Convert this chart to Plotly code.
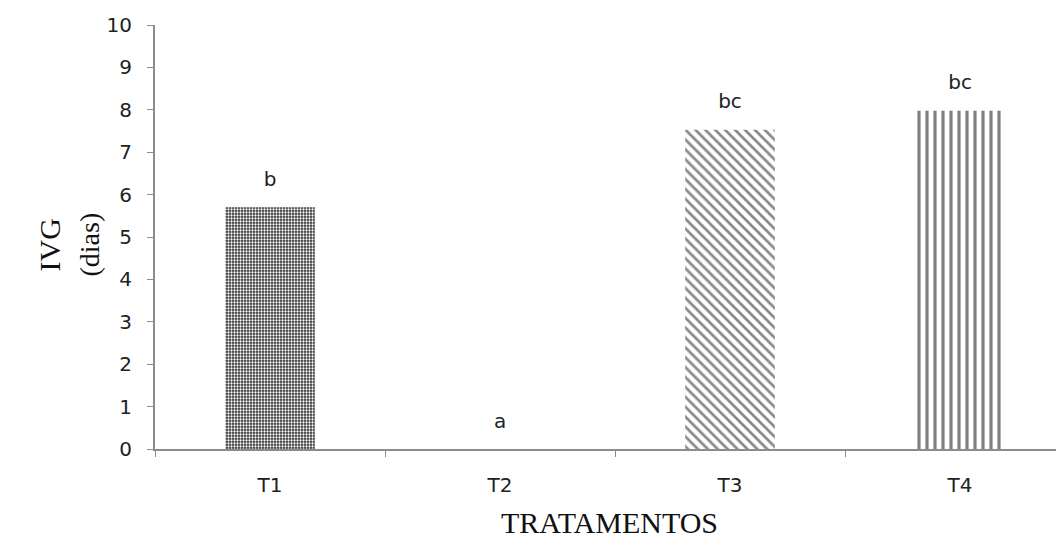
import plotly.graph_objects as go

categories = ["T1", "T2", "T3", "T4"]
values = [5.7, 0.0, 7.53, 7.98]
letters = ["b", "a", "bc", "bc"]
y_ticks = list(range(0, 11))

fig = go.Figure()

patterns = [
    dict(shape=".", bgcolor="#333333", fgcolor="#ffffff", size=3, solidity=0.45, fillmode="replace"),
    dict(shape="", bgcolor="white"),
    dict(shape="\\", bgcolor="white", fgcolor="#111111", size=7, solidity=0.38),
    dict(shape="|", bgcolor="white", fgcolor="#000000", size=8, solidity=0.4),
]

for i, (c, v) in enumerate(zip(categories, values)):
    fig.add_trace(go.Bar(
        x=[c], y=[v], width=0.39,
        marker=dict(color="white", pattern=patterns[i], line=dict(width=0)),
        showlegend=False,
    ))

fig.add_trace(go.Scatter(
    x=categories, y=[v + 0.62 for v in values], mode="text", text=letters,
    textposition="middle center",
    textfont=dict(family="DejaVu Sans", size=20, color="#222"),
    showlegend=False,
))

# page body has an 8px margin; compensate so the plot area lands where it should
W, H = 1056, 534
L, T, B = 147, 17, 93

fig.update_layout(
    width=W, height=H,
    margin=dict(l=L, r=0, t=T, b=B, autoexpand=False),
    plot_bgcolor="white", paper_bgcolor="white",
    barmode="overlay",
    xaxis=dict(
        range=[-0.5, 3.452], showline=True, linecolor="#8c8c8c", linewidth=2,
        ticks="outside", tickson="boundaries", ticklen=6, tickcolor="#8c8c8c",
        tickfont=dict(family="DejaVu Sans", size=20, color="#222"),
        ticklabelstandoff=17,
        showgrid=False, zeroline=False,
        title=dict(text="TRATAMENTOS", font=dict(family="Liberation Serif", size=30, color="#111"), standoff=16),
    ),
    yaxis=dict(
        range=[0, 10], tickvals=y_ticks, showline=True, linecolor="#8c8c8c", linewidth=2,
        ticks="outside", ticklen=6, tickcolor="#8c8c8c",
        tickfont=dict(family="DejaVu Sans", size=20, color="#222"),
        ticklabelstandoff=11,
        showgrid=False, zeroline=False,
    ),
)

pw = W - L
ph = H - T - B

def px_to_paper(x, y):
    # x, y are reference-image pixel positions
    return (x - 8 - L) / pw, (H - B - (y - 8)) / ph

ax, ay = px_to_paper(30, 245)
fig.add_annotation(text="IVG", x=ax, y=ay, xref="paper", yref="paper", showarrow=False,
                   textangle=-90, font=dict(family="Liberation Serif", size=30, color="#111"))
ax, ay = px_to_paper(71, 245)
fig.add_annotation(text="(dias)", x=ax, y=ay, xref="paper", yref="paper", showarrow=False,
                   textangle=-90, font=dict(family="Liberation Serif", size=28, color="#111"))

fig.write_html("out.html")
